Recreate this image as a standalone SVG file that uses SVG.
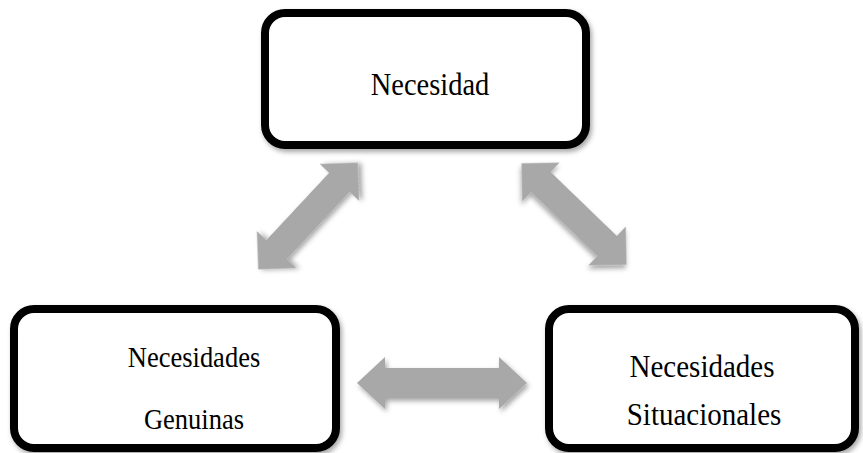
<svg xmlns="http://www.w3.org/2000/svg" width="863" height="453" viewBox="0 0 863 453">
<defs>
<filter id="sh" x="-20%" y="-20%" width="140%" height="140%">
<feDropShadow dx="2" dy="3" stdDeviation="2.5" flood-color="#000" flood-opacity="0.35"/>
</filter>
<path id="arrH" d="M -85,0 L -57,-26 L -57,-15 L 57,-15 L 57,-26 L 85,0 L 57,26 L 57,15 L -57,15 L -57,26 Z"/>
<path id="arrD" d="M -73,0 L -46,-27 L -46,-14 L 46,-14 L 46,-27 L 73,0 L 46,27 L 46,14 L -46,14 L -46,27 Z"/>
</defs>
<style>
.box{fill:#fff;stroke:#000;stroke-width:8;filter:url(#sh)}
.lbl{font-family:"Liberation Serif","Times New Roman",serif;font-size:28px;fill:#000;text-anchor:middle}
.arr{fill:#a8a8a8;filter:url(#sh)}
</style>
<rect width="863" height="453" fill="#fff"/>
<g id="connectors">
<use href="#arrD" class="arr" transform="translate(308,216) rotate(-47)"/>
<use href="#arrD" class="arr" transform="translate(574,214) rotate(44)"/>
<use href="#arrH" class="arr" transform="translate(442,383)"/>
</g>
<g id="necesidad">
<rect class="box" x="265" y="13" width="321" height="132" rx="20"/>
<text class="lbl" transform="translate(430,95) scale(1,1.1)" style="font-size:28.5px">Necesidad</text>
</g>
<g id="genuinas">
<rect class="box" x="14" y="309" width="322" height="139" rx="20"/>
<text class="lbl" transform="translate(194,367) scale(1,1.14)" style="font-size:26.5px">Necesidades</text>
<text class="lbl" transform="translate(194,429) scale(1,1.14)" style="font-size:26.5px">Genuinas</text>
</g>
<g id="situacionales">
<rect class="box" x="549" y="309" width="306" height="139" rx="20"/>
<text class="lbl" transform="translate(702,377) scale(1,1.08)" style="font-size:29px">Necesidades</text>
<text class="lbl" transform="translate(704,425) scale(1,1.08)" style="font-size:29px">Situacionales</text>
</g>
</svg>
